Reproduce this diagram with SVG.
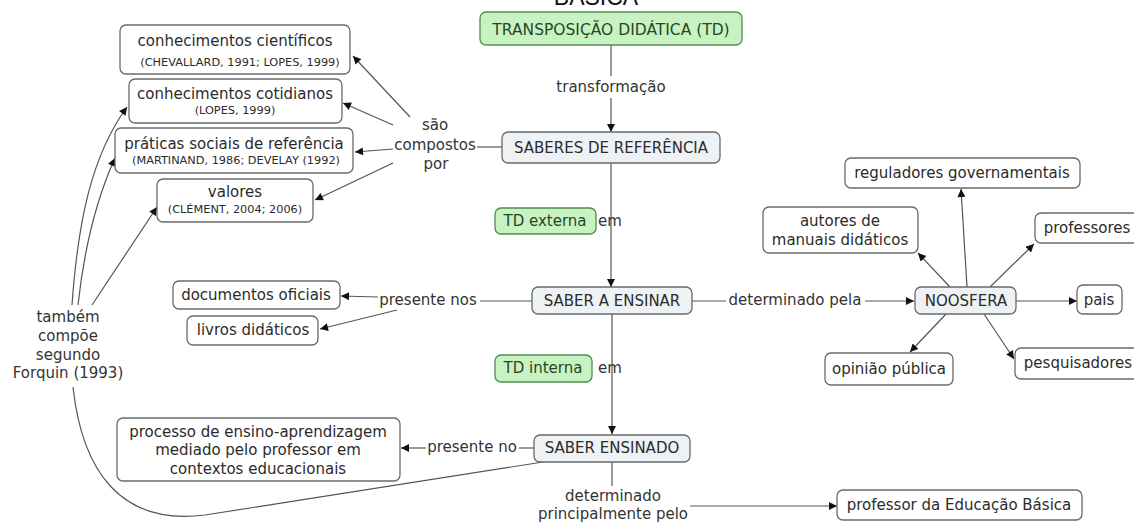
<svg xmlns="http://www.w3.org/2000/svg" width="1134" height="523" viewBox="0 0 1134 523">
  <style>
    text { font-family: "DejaVu Sans", Verdana, sans-serif; fill: #2b2b2b; text-anchor: middle; }
    .t { font-size: 15px; }
    .s { font-size: 11.3px; }
    .lbl { font-size: 15px; fill: #333; }
    .box { fill: #ffffff; stroke: #6a6a6a; stroke-width: 1.3; }
    .key { fill: #eef2f4; stroke: #6a6a6a; stroke-width: 1.3; }
    .td { fill: #c8f2c2; stroke: #4f8d4f; stroke-width: 1.3; }
    .td-text { fill: #1f4a1f; }
    .ln { fill: none; stroke: #555; stroke-width: 1.2; }
    .arr { marker-end: url(#head); }
  </style>
  <defs>
    <marker id="head" viewBox="0 0 10 10" refX="10" refY="5" markerWidth="9" markerHeight="8" markerUnits="userSpaceOnUse" orient="auto">
      <path d="M0,0 L10,5 L0,10 z" fill="#111"/>
    </marker>
  </defs>
  <rect width="1134" height="523" fill="#ffffff"/>

  <!-- title, cut by the top edge -->
  <text x="596" y="5" style="font-family:'Liberation Sans',Arial,sans-serif;font-size:23px;fill:#111">BÁSICA</text>

  <g id="connectors">
    <!-- TD -> SABERES DE REFERÊNCIA -->
    <path class="ln" d="M611,45 V76"/>
    <path class="ln arr" d="M611,98 V132"/>
    <!-- SABERES DE REFERÊNCIA -> são compostos por -->
    <path class="ln" d="M502,147 H477"/>
    <path class="ln arr" d="M410,117 L353,56"/>
    <path class="ln arr" d="M393,125 L343,103"/>
    <path class="ln arr" d="M393,149 L355,152"/>
    <path class="ln arr" d="M393,163 L315,200"/>
    <!-- SABERES DE REFERÊNCIA -> SABER A ENSINAR -->
    <path class="ln arr" d="M611,163 V287"/>
    <!-- SABER A ENSINAR -> presente nos -->
    <path class="ln" d="M532,301 H480"/>
    <path class="ln arr" d="M378,297 L341,296"/>
    <path class="ln arr" d="M397,310 L320,329"/>
    <!-- SABER A ENSINAR -> determinado pela -> NOOSFERA -->
    <path class="ln" d="M692,301 H726"/>
    <path class="ln arr" d="M865,301 H914"/>
    <!-- NOOSFERA -> members -->
    <path class="ln arr" d="M967,287 L961,189"/>
    <path class="ln arr" d="M950,287 L918,253"/>
    <path class="ln arr" d="M990,287 L1034,244"/>
    <path class="ln arr" d="M1016,301 H1077"/>
    <path class="ln arr" d="M946,314 L910,352"/>
    <path class="ln arr" d="M984,314 L1014,359"/>
    <!-- SABER A ENSINAR -> SABER ENSINADO -->
    <path class="ln arr" d="M612,314 V434"/>
    <!-- SABER ENSINADO -> presente no -->
    <path class="ln" d="M534,448 H519"/>
    <path class="ln arr" d="M426,448 H401"/>
    <!-- SABER ENSINADO -> determinado principalmente pelo -->
    <path class="ln" d="M612,462 V486"/>
    <path class="ln arr" d="M690,506 H837"/>
    <!-- SABER ENSINADO -> também compõe segundo Forquin (1993) -->
    <path class="ln" d="M543,462 L205,515 C120,526 82,470 73,387"/>
    <path class="ln arr" d="M72,305 C78,220 92,155 127,107"/>
    <path class="ln arr" d="M78,305 C84,250 96,200 115,158"/>
    <path class="ln arr" d="M92,305 L157,207"/>
  </g>

  <g id="td">
    <rect class="td" x="480" y="12" width="262" height="33" rx="6"/>
    <text class="t td-text" x="611" y="35" style="font-size:15.5px">TRANSPOSIÇÃO DIDÁTICA (TD)</text>
  </g>
  <g id="lbl-transformacao">
    <text class="lbl" x="611" y="92">transformação</text>
  </g>
  <g id="saberes-referencia">
    <rect class="key" x="502" y="132" width="218" height="31" rx="6"/>
    <text class="t" x="611" y="153">SABERES DE REFERÊNCIA</text>
  </g>
  <g id="lbl-compostos">
    <text class="lbl" x="435" y="130">são</text>
    <text class="lbl" x="435" y="150">compostos</text>
    <text class="lbl" x="436" y="169">por</text>
  </g>
  <g id="conhecimentos-cientificos">
    <rect class="box" x="120" y="25" width="230" height="49" rx="6"/>
    <text class="t" x="235" y="46">conhecimentos científicos</text>
    <text class="s" x="240" y="66">(CHEVALLARD, 1991; LOPES, 1999)</text>
  </g>
  <g id="conhecimentos-cotidianos">
    <rect class="box" x="129" y="79" width="213" height="44" rx="6"/>
    <text class="t" x="235" y="99">conhecimentos cotidianos</text>
    <text class="s" x="235" y="114">(LOPES, 1999)</text>
  </g>
  <g id="praticas-sociais">
    <rect class="box" x="115" y="128" width="238" height="45" rx="6"/>
    <text class="t" x="234" y="149">práticas sociais de referência</text>
    <text class="s" x="236" y="164">(MARTINAND, 1986; DEVELAY (1992)</text>
  </g>
  <g id="valores">
    <rect class="box" x="157" y="179" width="156" height="43" rx="6"/>
    <text class="t" x="235" y="197">valores</text>
    <text class="s" x="235" y="213">(CLÉMENT, 2004; 2006)</text>
  </g>
  <g id="td-externa">
    <rect class="td" x="495" y="208" width="101" height="26" rx="6"/>
    <text class="t td-text" x="545" y="226">TD externa</text>
    <text class="lbl" x="610" y="226">em</text>
  </g>
  <g id="saber-a-ensinar">
    <rect class="key" x="532" y="287" width="160" height="27" rx="6"/>
    <text class="t" x="612" y="306">SABER A ENSINAR</text>
  </g>
  <g id="lbl-presente-nos">
    <text class="lbl" x="428" y="305">presente nos</text>
  </g>
  <g id="documentos-oficiais">
    <rect class="box" x="173" y="281" width="167" height="28" rx="6"/>
    <text class="t" x="256" y="300">documentos oficiais</text>
  </g>
  <g id="livros-didaticos">
    <rect class="box" x="187" y="316" width="131" height="29" rx="6"/>
    <text class="t" x="253" y="335">livros didáticos</text>
  </g>
  <g id="lbl-determinado-pela">
    <text class="lbl" x="795" y="305">determinado pela</text>
  </g>
  <g id="noosfera">
    <rect class="key" x="915" y="287" width="101" height="27" rx="6"/>
    <text class="t" x="966" y="306">NOOSFERA</text>
  </g>
  <g id="reguladores">
    <rect class="box" x="845" y="158" width="235" height="30" rx="6"/>
    <text class="t" x="962" y="178">reguladores governamentais</text>
  </g>
  <g id="autores">
    <rect class="box" x="763" y="207" width="155" height="46" rx="6"/>
    <text class="t" x="840" y="226">autores de</text>
    <text class="t" x="840" y="245">manuais didáticos</text>
  </g>
  <g id="professores">
    <rect class="box" x="1035" y="213" width="104" height="30" rx="6"/>
    <text class="t" x="1087" y="233">professores</text>
  </g>
  <g id="pais">
    <rect class="box" x="1077" y="285" width="45" height="29" rx="6"/>
    <text class="t" x="1099" y="305">pais</text>
  </g>
  <g id="opiniao-publica">
    <rect class="box" x="825" y="353" width="128" height="32" rx="6"/>
    <text class="t" x="889" y="374">opinião pública</text>
  </g>
  <g id="pesquisadores">
    <rect class="box" x="1015" y="348" width="124" height="31" rx="6"/>
    <text class="t" x="1078" y="368">pesquisadores</text>
  </g>
  <g id="td-interna">
    <rect class="td" x="495" y="355" width="97" height="27" rx="6"/>
    <text class="t td-text" x="543" y="373">TD interna</text>
    <text class="lbl" x="610" y="373">em</text>
  </g>
  <g id="saber-ensinado">
    <rect class="key" x="534" y="435" width="156" height="27" rx="6"/>
    <text class="t" x="612" y="453">SABER ENSINADO</text>
  </g>
  <g id="lbl-presente-no">
    <text class="lbl" x="472" y="452">presente no</text>
  </g>
  <g id="processo">
    <rect class="box" x="117" y="418" width="283" height="63" rx="6"/>
    <text class="t" x="258" y="437">processo de ensino-aprendizagem</text>
    <text class="t" x="258" y="455">mediado pelo professor em</text>
    <text class="t" x="258" y="474">contextos educacionais</text>
  </g>
  <g id="lbl-determinado-principalmente">
    <text class="lbl" x="613" y="501">determinado</text>
    <text class="lbl" x="613" y="519">principalmente pelo</text>
  </g>
  <g id="professor-educacao-basica">
    <rect class="box" x="837" y="490" width="245" height="30" rx="6"/>
    <text class="t" x="959" y="510">professor da Educação Básica</text>
  </g>
  <g id="lbl-forquin">
    <text class="lbl" x="68" y="322">também</text>
    <text class="lbl" x="68" y="341">compõe</text>
    <text class="lbl" x="68" y="360">segundo</text>
    <text class="lbl" x="68" y="378">Forquin (1993)</text>
  </g>
</svg>
